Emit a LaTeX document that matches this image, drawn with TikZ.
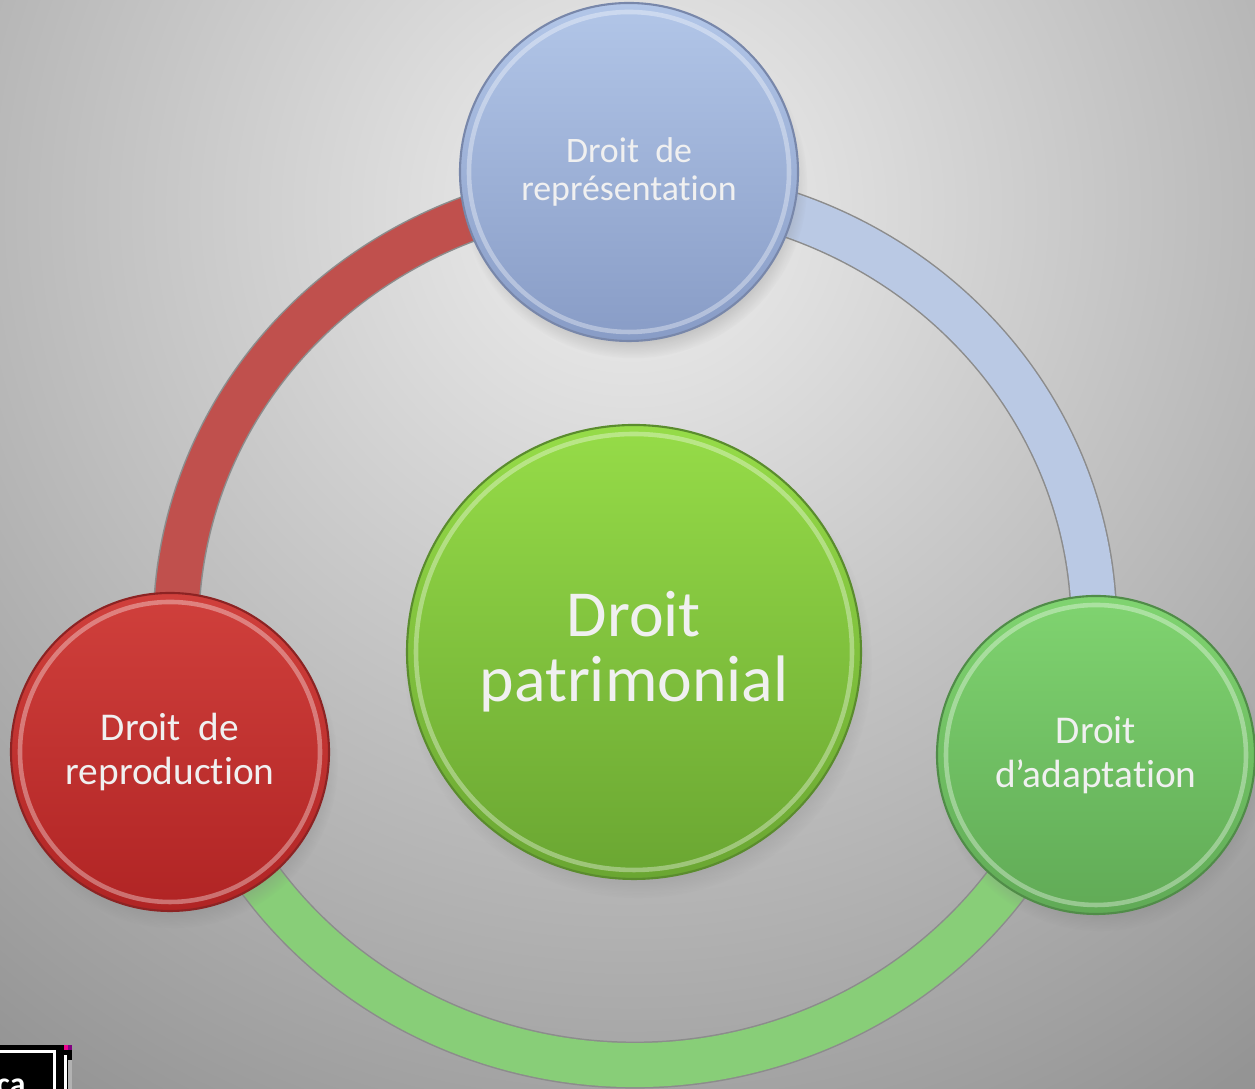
\documentclass[tikz,border=0pt]{standalone}
\usepackage{fontspec}
\setmainfont{Carlito}[Ligatures=NoCommon]
\usetikzlibrary{calc,shadows}

\definecolor{bluetop}{RGB}{178,198,232}
\definecolor{bluebot}{RGB}{136,156,198}
\definecolor{blueedge}{RGB}{120,135,170}
\definecolor{redtop}{RGB}{208,64,60}
\definecolor{redbot}{RGB}{176,36,36}
\definecolor{rededge}{RGB}{140,35,35}
\definecolor{limetop}{RGB}{150,220,72}
\definecolor{limebot}{RGB}{106,166,50}
\definecolor{limeedge}{RGB}{90,140,45}
\definecolor{leaftop}{RGB}{128,212,112}
\definecolor{leafbot}{RGB}{96,170,86}
\definecolor{leafedge}{RGB}{80,140,72}
\definecolor{ringred}{RGB}{192,80,77}
\definecolor{ringblue}{RGB}{186,201,228}
\definecolor{ringgreen}{RGB}{136,206,120}

\tikzset{
	disc/.style={circle, inner sep=0pt, align=center, text=white!94!black,
		draw=#1edge, line width=.6pt, shading=axis, top color=#1top, bottom color=#1bot,
		circular drop shadow={shadow xshift=.4mm, shadow yshift=-1.2mm, shadow scale=1.03, opacity=.45}},
	rim/.style={draw=white, line width=1.3pt, opacity=.35},
	band/.style={line width=4.4mm, draw=#1},
	bandedge/.style={line width=4.7mm, draw=black!45},
	small/.style={font=\fontsize{10.2}{11}\selectfont},
	medium/.style={font=\fontsize{11.2}{12.6}\selectfont},
	big/.style={font=\fontsize{18.7}{18.6}\selectfont}
}

\begin{document}
\begin{tikzpicture}
	\useasboundingbox (0,0) rectangle (12.55,10.89);

	% background
	\begin{scope}
		\clip (0,0) rectangle (12.55,10.89);
		\fill[black!42] (0,0) rectangle (12.55,10.89);
		\shade[inner color=black!6, outer color=black!42] (6.3,8.8) circle (10.6);
	\end{scope}

	% ring
	\coordinate (ring) at (6.35,4.62);
	\coordinate (p-top) at ($(ring)+(90:4.59 and 4.38)$);
	\coordinate (p-left) at ($(ring)+(197:4.59 and 4.38)$);
	\coordinate (p-right) at ($(ring)+(-17:4.59 and 4.38)$);

	\draw[bandedge] (p-top) arc[start angle=90, end angle=197, x radius=4.59, y radius=4.38];
	\draw[bandedge] (p-left) arc[start angle=197, end angle=343, x radius=4.59, y radius=4.38];
	\draw[bandedge] (p-right) arc[start angle=-17, end angle=90, x radius=4.59, y radius=4.38];
	\draw[band=ringred]   (p-top) arc[start angle=90, end angle=197, x radius=4.59, y radius=4.38];
	\draw[band=ringgreen] (p-left) arc[start angle=197, end angle=343, x radius=4.59, y radius=4.38];
	\draw[band=ringblue]  (p-right) arc[start angle=-17, end angle=90, x radius=4.59, y radius=4.38];

	% discs
	\node[disc=blue, small, minimum size=3.38cm] (repr) at (6.29,9.17) {Droit~ de\\représentation};
	\node[disc=red, medium, minimum size=3.18cm] (repro) at (1.70,3.37) {Droit~ de\\reproduction};
	\node[disc=leaf, medium, minimum size=3.18cm] (adapt) at (10.96,3.34) {Droit\\d’adaptation};
	\node[disc=lime, big, minimum size=4.54cm] (patri) at (6.34,4.37) {Droit\\patrimonial};

	\foreach \n/\r in {repr/1.60, repro/1.50, adapt/1.50, patri/2.18}
		\draw[rim] (\n.center) circle[radius=\r];

	% glitch in the corner
	\begin{scope}
		\clip (0,0) rectangle (0.72,0.44);
		\fill[black] (0,0) rectangle (0.72,0.44);
		\fill[white] (0,0.36) rectangle (0.56,0.39);
		\fill[white] (0.53,0) rectangle (0.56,0.39);
		\fill[white] (0.64,0) rectangle (0.67,0.34);
		\fill[black!30] (0.68,0) rectangle (0.72,0.29);
		\fill[magenta] (0.64,0.39) rectangle (0.68,0.44);
		\fill[violet] (0.68,0.39) rectangle (0.72,0.44);
		\node[anchor=south west, inner sep=0pt, text=white, font=\bfseries\fontsize{9}{9}\selectfont] (ca) at (-0.04,-0.06) {ca};
	\end{scope}
\end{tikzpicture}
\end{document}
